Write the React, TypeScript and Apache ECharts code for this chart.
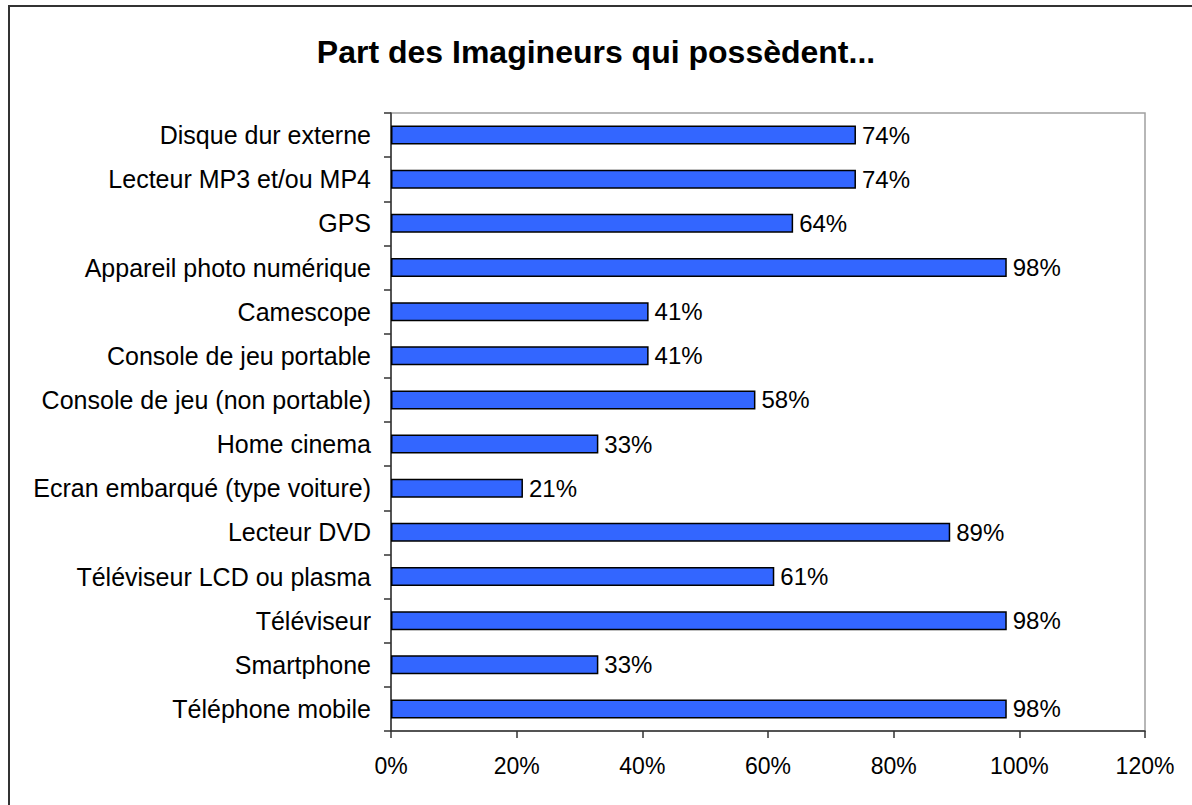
import React, { useEffect, useRef } from "react";
import * as echarts from "echarts";

const categories = [
  "Disque dur externe",
  "Lecteur MP3 et/ou MP4",
  "GPS",
  "Appareil photo numérique",
  "Camescope",
  "Console de jeu portable",
  "Console de jeu (non portable)",
  "Home cinema",
  "Ecran embarqué (type voiture)",
  "Lecteur DVD",
  "Téléviseur LCD ou plasma",
  "Téléviseur",
  "Smartphone",
  "Téléphone mobile",
];
const values = [74, 74, 64, 98, 41, 41, 58, 33, 21, 89, 61, 98, 33, 98];
const titleText = "Part des Imagineurs qui possèdent...";
const xMin = 0;
const xMax = 120;
const xStep = 20;

const FONT = "'Liberation Sans', Arial, sans-serif";

export default function App() {
  const ref = useRef<HTMLDivElement>(null);
  useEffect(() => {
    if (!ref.current) return;
    const chart = echarts.init(ref.current, null, { renderer: "svg" });
    chart.setOption({
      animation: false,
      backgroundColor: "#ffffff",
      title: {
        text: titleText,
        left: "center",
        top: 31,
        textStyle: { fontFamily: FONT, fontSize: 32, fontWeight: "bold", color: "#000" },
      },
      graphic: [
        {
          type: "rect",
          shape: { x: 9, y: 6, width: 1300, height: 900 },
          style: { fill: "none", stroke: "#333", lineWidth: 2 },
          silent: true,
        },
      ],
      grid: {
        left: 391,
        top: 113,
        right: 47,
        bottom: 74,
        show: true,
        borderColor: "#a0a0a0",
        borderWidth: 1.5,
        backgroundColor: "transparent",
      },
      xAxis: {
        type: "value",
        min: xMin,
        max: xMax,
        interval: xStep,
        splitLine: { show: false },
        axisLine: { show: true, lineStyle: { color: "#333", width: 1.5 } },
        axisTick: { show: true, length: 7, lineStyle: { color: "#333", width: 1.5 } },
        axisLabel: {
          formatter: "{value}%",
          margin: 23,
          fontFamily: FONT,
          fontSize: 23,
          color: "#000",
        },
      },
      yAxis: {
        type: "category",
        data: categories,
        inverse: true,
        axisLine: { show: true, lineStyle: { color: "#333", width: 1.5 } },
        axisTick: { show: true, length: 7, lineStyle: { color: "#333", width: 1.5 } },
        axisLabel: {
          margin: 20,
          fontFamily: FONT,
          fontSize: 25,
          color: "#000",
        },
        splitLine: { show: false },
      },
      series: [
        {
          type: "bar",
          data: values,
          barWidth: 19,
          itemStyle: { color: "#3366ff", borderColor: "#000", borderWidth: 1.5 },
          label: {
            show: true,
            position: "right",
            distance: 6,
            formatter: "{c}%",
            fontFamily: FONT,
            fontSize: 24,
            color: "#000",
          },
        },
      ],
    });
    return () => chart.dispose();
  }, []);
  return (
    <div
      ref={ref}
      style={{ position: "fixed", left: 0, top: 0, width: 1192, height: 805, background: "#fff" }}
    />
  );
}
